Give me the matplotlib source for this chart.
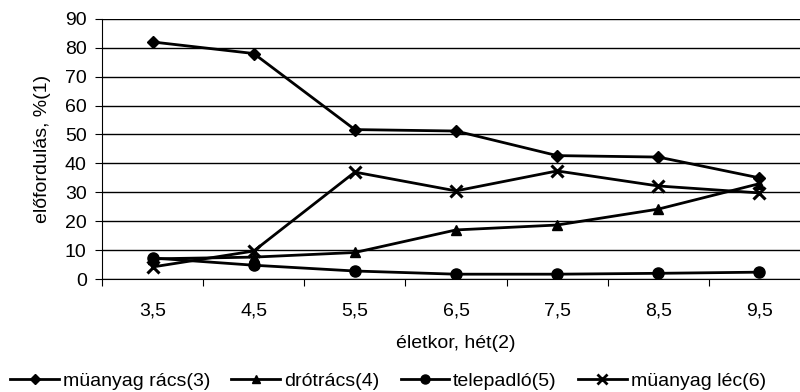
import matplotlib.pyplot as plt
from matplotlib.lines import Line2D

plt.rcParams["font.family"] = ["Liberation Sans", "DejaVu Sans"]

ages = ["3,5", "4,5", "5,5", "6,5", "7,5", "8,5", "9,5"]
muanyag_racs = [82, 78, 51.7, 51.2, 42.7, 42.2, 35]
drotracs = [7, 7.6, 9.2, 17, 18.7, 24.2, 33]
telepadlo = [7.3, 4.8, 2.8, 1.7, 1.7, 2.0, 2.4]
muanyag_lec = [4.2, 9.7, 37, 30.5, 37.4, 32.2, 29.8]

series = [
    ("müanyag rács(3)", muanyag_racs, "D", 6.5),
    ("drótrács(4)", drotracs, "^", 7.5),
    ("telepadló(5)", telepadlo, "o", 8),
    ("müanyag léc(6)", muanyag_lec, "x", 8),
]

FS = 14

fig = plt.figure(figsize=(8, 3.92), dpi=100)
ax = fig.add_axes([0.1275, 0.288, 0.885, 0.664])

x = [i + 0.5 for i in range(len(ages))]
for name, vals, mk, ms in series:
    ax.plot(x, vals, color="black", lw=2, marker=mk, markersize=ms,
            markeredgewidth=2.2 if mk == "x" else 1, label=name)

ax.set_xlim(0, 7)
ax.set_ylim(0, 90)
ax.set_yticks(range(0, 91, 10))
ax.yaxis.grid(True, color="black", lw=1)
ax.set_axisbelow(True)
ax.set_xticks(range(0, 8))
ax.set_xticklabels([])
ax.set_xticks(x, minor=True)
ax.set_xticklabels(ages, minor=True)
ax.tick_params(axis="x", which="minor", length=0, pad=17, labelsize=FS)
ax.tick_params(axis="x", which="major", length=5, direction="out")
ax.tick_params(axis="y", length=5, labelsize=FS, pad=6)
for s in ["top", "right"]:
    ax.spines[s].set_visible(False)

ax.set_xlabel("életkor, hét(2)", fontsize=FS, labelpad=11)
ax.set_ylabel("előfordulás, %(1)", fontsize=FS, labelpad=10)

handles = [Line2D([], [], color="black", lw=2, marker=mk, markersize=ms - 1.5,
                  markeredgewidth=2 if mk == "x" else 1) for _, _, mk, ms in series]
fig.legend(handles, [s[0] for s in series], loc="lower center",
           bbox_to_anchor=(0.485, -0.04), ncol=4, frameon=False, fontsize=FS,
           handlelength=2.5, columnspacing=1.1, handletextpad=0.2)

fig.savefig("out.png", dpi=100)
